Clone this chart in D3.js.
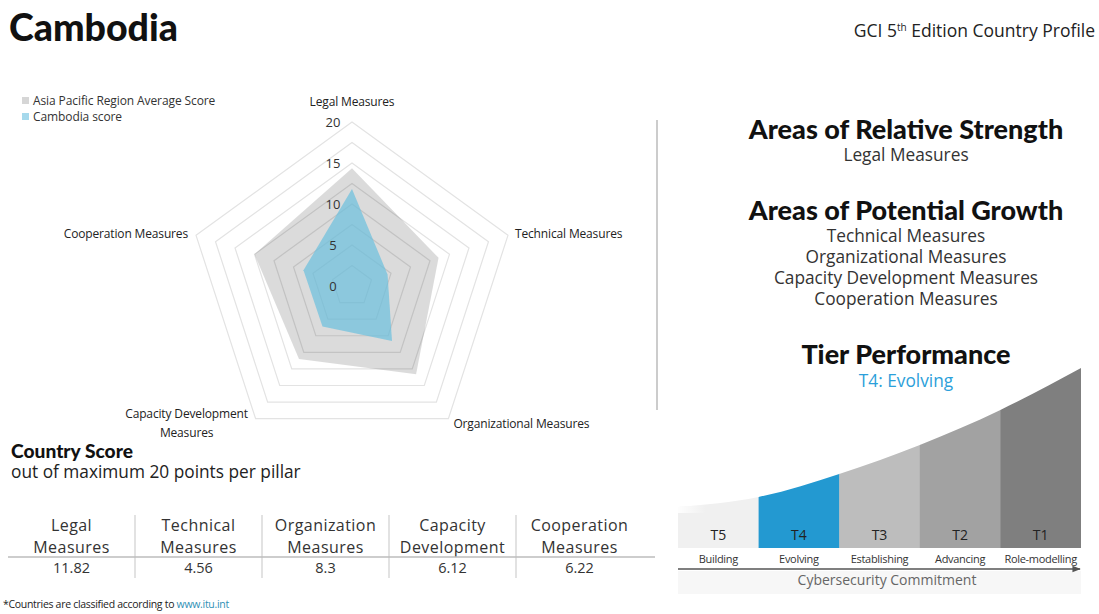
<!DOCTYPE html>
<html><head><meta charset="utf-8">
<script src="https://cdn.jsdelivr.net/npm/d3@7"></script>
<style>
html,body{margin:0;padding:0;background:#fff;}
svg{display:block;}
</style></head>
<body>
<svg id="chart" width="1099" height="614" font-family="Open Sans, sans-serif"></svg>
<script>
// ---------------- DATA ----------------
const pillars = ["Legal Measures","Technical Measures","Organizational Measures","Capacity Development Measures","Cooperation Measures"];
const regionAvg = [14.35, 11.1, 13.3, 11.0, 12.5];
const countryScore = [11.82, 4.56, 8.3, 6.12, 6.22];
const radarTicks = [0, 5, 10, 15, 20];
const gridLevels = [2.5, 5, 7.5, 10, 12.5, 15, 17.5, 20];
const tableHeaders = [["Legal","Measures"],["Technical","Measures"],["Organization","Measures"],["Capacity","Development"],["Cooperation","Measures"]];
const strengths = ["Legal Measures"];
const growth = ["Technical Measures","Organizational Measures","Capacity Development Measures","Cooperation Measures"];
const tiers = ["T5","T4","T3","T2","T1"];
const tierNames = ["Building","Evolving","Establishing","Advancing","Role-modelling"];
const tierColors = ["#f0f0f0","#2399d1","#bdbdbd","#a2a2a2","#7f7f7f"];
const curveLevels = [41, 51, 74, 103, 138, 180]; // commitment curve height at tier boundaries
const currentTier = "T4: Evolving";

// ---------------- SVG ----------------
const svg = d3.select("#chart");
const HEAD = "Lato, sans-serif";

// Title
svg.append("text").attr("x",9).attr("y",41).attr("font-size",37.5).attr("font-weight",900)
  .attr("font-family",HEAD).attr("fill","#111").text("Cambodia");
const gci = svg.append("text").attr("x",1095).attr("y",37).attr("text-anchor","end")
  .attr("font-size",17.5).attr("fill","#222");
gci.append("tspan").text("GCI 5");
gci.append("tspan").attr("dy",-6).attr("font-size",10).text("th");
gci.append("tspan").attr("dy",6).text(" Edition Country Profile");

// ---------------- RADAR ----------------
const cx = 352, cy = 286, R = 164;
const rScale = d3.scaleLinear().domain([0,20]).range([0,R]);
const angle = i => -Math.PI/2 + i*2*Math.PI/pillars.length;
const pt = (i,v) => [cx + rScale(v)*Math.cos(angle(i)), cy + rScale(v)*Math.sin(angle(i))];
const radar = svg.append("g");
const lineGen = d3.line().curve(d3.curveLinearClosed);

radar.selectAll("path.grid").data(gridLevels).join("path")
  .attr("class","grid")
  .attr("d", lv => lineGen(pillars.map((p,i)=>pt(i,lv))))
  .attr("fill","none").attr("stroke","#e3e3e3").attr("stroke-width",1.2);

radar.append("path").attr("d", lineGen(regionAvg.map((v,i)=>pt(i,v))))
  .attr("fill","rgba(0,0,0,0.14)").attr("stroke","none");
radar.append("path").attr("d", lineGen(countryScore.map((v,i)=>pt(i,v))))
  .attr("fill","rgba(110,192,222,0.72)").attr("stroke","none");

// tick labels
radar.selectAll("text.tick").data(radarTicks).join("text")
  .attr("class","tick")
  .attr("x", cx-19).attr("y", d => cy - rScale(d))
  .attr("dy","0.35em").attr("text-anchor","middle")
  .attr("font-size",13).attr("fill","#333")
  .text(d=>d);

// axis labels
const labelSpecs = [
  {lines:["Legal Measures"], anchor:"middle", dx:0, dy:-20},
  {lines:["Technical Measures"], anchor:"start", dx:7, dy:-2},
  {lines:["Organizational Measures"], anchor:"start", dx:5, dy:5},
  {lines:["Capacity Development","Measures"], anchor:"middle", dx:-69, dy:-5},
  {lines:["Cooperation Measures"], anchor:"end", dx:-8, dy:-2}
];
pillars.forEach((p,i)=>{
  const [x,y] = pt(i,20);
  const s = labelSpecs[i];
  const t = radar.append("text").attr("text-anchor",s.anchor)
    .attr("font-size",12).attr("fill","#222")
    .attr("letter-spacing",-0.15);
  s.lines.forEach((ln,k)=>{
    t.append("tspan").attr("x",x+s.dx).attr("y",y+s.dy+k*19).attr("dy","0.35em").text(ln);
  });
});

// legend
const legend = svg.append("g").attr("font-size",12).attr("fill","#333");
[["Asia Pacific Region Average Score","#d6d6d6"],["Cambodia score","#a6d9ec"]].forEach((d,i)=>{
  legend.append("rect").attr("x",22).attr("y",97+i*16).attr("width",7).attr("height",7).attr("fill",d[1]);
  legend.append("text").attr("x",33).attr("y",101+i*16).attr("dy","0.35em").attr("letter-spacing",-0.1).text(d[0]);
});

// ---------------- COUNTRY SCORE TABLE ----------------
svg.append("text").attr("x",11).attr("y",458).attr("font-size",19.2).attr("font-weight",900).attr("font-family",HEAD).attr("fill","#111").text("Country Score");
svg.append("text").attr("x",11).attr("y",478).attr("font-size",17.3).attr("fill","#222").text("out of maximum 20 points per pillar");

const colX = d3.scaleBand().domain(d3.range(tableHeaders.length)).range([8,643]);
const table = svg.append("g").attr("fill","#333");
tableHeaders.forEach((h,i)=>{
  const xc = colX(i)+colX.bandwidth()/2;
  h.forEach((ln,k)=>{
    table.append("text").attr("x",xc).attr("y",525+k*22).attr("dy","0.35em")
      .attr("text-anchor","middle").attr("font-size",16).attr("letter-spacing",0.45).text(ln);
  });
  table.append("text").attr("x",xc).attr("y",568).attr("dy","0.35em")
    .attr("text-anchor","middle").attr("font-size",14.5).text(countryScore[i]);
  if(i>0){
    table.append("line").attr("x1",colX(i)).attr("x2",colX(i)).attr("y1",515).attr("y2",578)
      .attr("stroke","#cfcfcf").attr("stroke-width",1.2);
  }
});
table.append("line").attr("x1",8).attr("x2",655).attr("y1",557).attr("y2",557)
  .attr("stroke","#bdbdbd").attr("stroke-width",1.5);

const foot = svg.append("text").attr("x",3).attr("y",608).attr("font-size",10.5).attr("fill","#222").attr("letter-spacing",-0.3);
foot.append("tspan").text("*Countries are classified according to ");
foot.append("tspan").attr("fill","#2f8fb5").text("www.itu.int");

// divider
svg.append("line").attr("x1",657).attr("x2",657).attr("y1",120).attr("y2",410).attr("stroke","#cccccc").attr("stroke-width",2);

// ---------------- RIGHT TEXT ----------------
const rcx = 906;
const right = svg.append("g").attr("text-anchor","middle");
right.append("text").attr("x",rcx).attr("y",139).attr("font-size",27).attr("font-weight",900).attr("font-family",HEAD).attr("fill","#111").text("Areas of Relative Strength");
strengths.forEach((s,i)=>right.append("text").attr("x",rcx).attr("y",161+i*21).attr("font-size",17.3).attr("fill","#333").text(s));
right.append("text").attr("x",rcx).attr("y",220).attr("font-size",27).attr("font-weight",900).attr("font-family",HEAD).attr("fill","#111").text("Areas of Potential Growth");
growth.forEach((s,i)=>right.append("text").attr("x",rcx).attr("y",242+i*21).attr("font-size",17.3).attr("fill","#333").text(s));
right.append("text").attr("x",rcx).attr("y",364).attr("font-size",27).attr("font-weight",900).attr("font-family",HEAD).attr("fill","#111").text("Tier Performance");
right.append("text").attr("x",rcx).attr("y",387).attr("font-size",17.3).attr("fill","#2ba0da").text(currentTier);

// ---------------- TIER CHART ----------------
const tx = d3.scaleLinear().domain([0,tiers.length]).range([678,1081]);
const ty = d3.scaleLinear().domain([0,180]).range([548,368]);
const defs = svg.append("defs");
const area = d3.area().curve(d3.curveMonotoneX)
  .x((d,i)=>tx(i)).y0(ty(0)).y1(d=>ty(d));
defs.append("clipPath").attr("id","tierClip").append("path").attr("d", area(curveLevels));
const fade = defs.append("linearGradient").attr("id","fade").attr("x1",0).attr("x2",1).attr("y1",0).attr("y2",0);
fade.append("stop").attr("offset",0).attr("stop-color","#fff").attr("stop-opacity",0.9);
fade.append("stop").attr("offset",1).attr("stop-color","#fff").attr("stop-opacity",0);
const tierG = svg.append("g").attr("clip-path","url(#tierClip)");
tierG.selectAll("rect.tier").data(tiers).join("rect")
  .attr("class","tier")
  .attr("x",(d,i)=>tx(i)).attr("width",(d,i)=>tx(i+1)-tx(i)+0.5)
  .attr("y",ty(180)).attr("height",ty(0)-ty(180))
  .attr("fill",(d,i)=>tierColors[i]);
tierG.append("rect").attr("x",tx(0)).attr("width",(tx(1)-tx(0))*0.35)
  .attr("y",ty(curveLevels[1])).attr("height",ty(curveLevels[0]-6)-ty(curveLevels[1]))
  .attr("fill","url(#fade)");
const tl = svg.append("g").attr("text-anchor","middle");
tiers.forEach((t,i)=>{
  const xc = (tx(i)+tx(i+1))/2;
  tl.append("text").attr("x",xc).attr("y",535).attr("dy","0.35em").attr("font-size",14).attr("fill","#222").text(t);
  tl.append("text").attr("x",xc).attr("y",559).attr("dy","0.35em").attr("font-size",11).attr("fill","#333").attr("letter-spacing",-0.3).text(tierNames[i]);
});
svg.append("rect").attr("x",678).attr("y",571).attr("width",403).attr("height",23).attr("fill","#f7f7f7");
defs.append("marker").attr("id","arr").attr("viewBox","0 0 10 10").attr("refX",9).attr("refY",5)
  .attr("markerWidth",6).attr("markerHeight",6).attr("orient","auto")
  .append("path").attr("d","M0,1 L10,5 L0,9 Z").attr("fill","#555");
svg.append("line").attr("x1",678).attr("x2",1080).attr("y1",569).attr("y2",569)
  .attr("stroke","#555").attr("stroke-width",1.4).attr("marker-end","url(#arr)");
svg.append("text").attr("x",887).attr("y",580).attr("dy","0.35em").attr("text-anchor","middle")
  .attr("font-size",14).attr("fill","#666").text("Cybersecurity Commitment");
</script>
</body></html>
